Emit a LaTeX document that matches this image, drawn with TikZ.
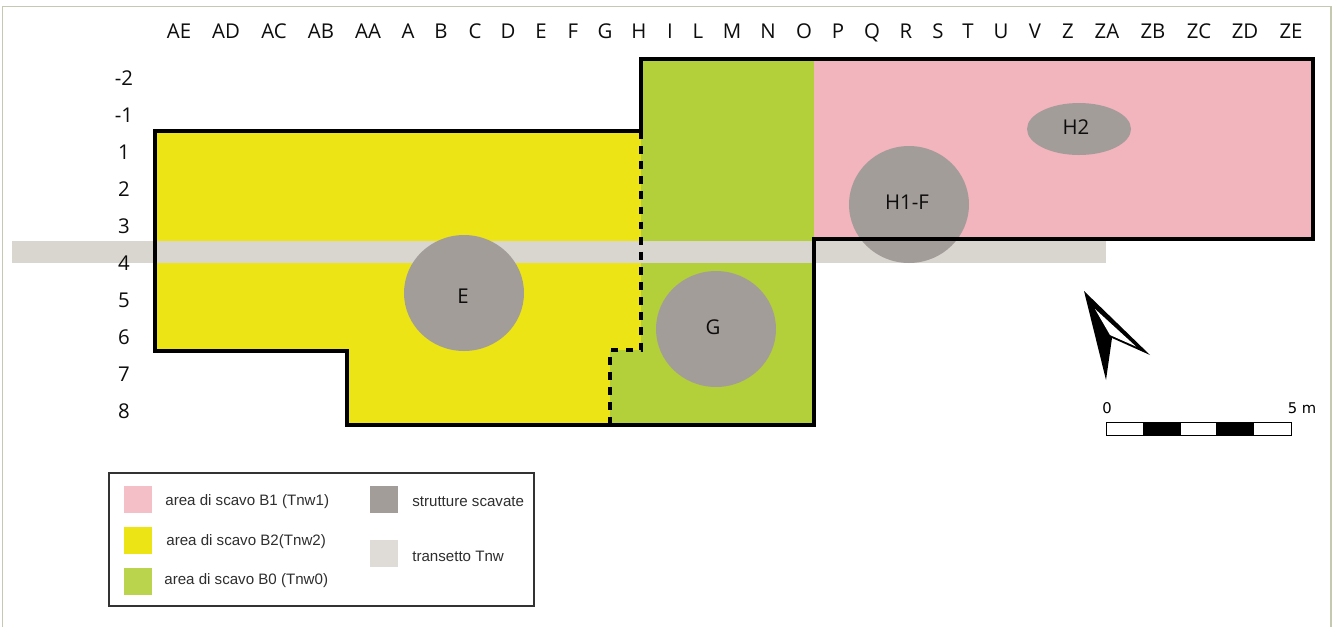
\documentclass[tikz,border=0pt]{standalone}
\usepackage{fontspec}
\setmainfont{Open Sans}
\newfontfamily\legendfont{Liberation Sans}
\newfontfamily\scalefont{DejaVu Sans}
\usepackage{tikz}
\usetikzlibrary{shapes.geometric}
\definecolor{areaone}{HTML}{F2B4BD}
\definecolor{areatwo}{HTML}{ECE415}
\definecolor{areazero}{HTML}{B3CF39}
\definecolor{struct}{HTML}{A39D99}
\definecolor{transect}{HTML}{D9D6D0}
\definecolor{sheet}{HTML}{C4C9B0}
\tikzset{
	grid/.style={inner sep=0, text depth=0pt, font=\fontsize{11.6}{13}\selectfont, text=black!95},
	pit/.style={ellipse, fill=struct, inner sep=0},
	pitlab/.style={inner sep=0, font=\fontsize{11.6}{13}\selectfont, text=black!95},
	edge/.style={line width=2pt, line cap=rect, line join=miter},
	cut/.style={line width=2pt, dash pattern=on 4.4pt off 4.2pt},
	key/.style={anchor=west, inner sep=0, text=black!82, font=\legendfont\fontsize{8.6}{10}\selectfont},
	swatch/.style={inner sep=0, minimum width=0.56cm, minimum height=0.54cm},
	scalelab/.style={inner sep=0, font=\scalefont\fontsize{8.4}{10}\selectfont}
}
\begin{document}
\begin{tikzpicture}[x=0.02cm,y=-0.02cm]
	\useasboundingbox (0,0) rectangle (1335,627);
	\fill[white] (0,0) rectangle (1335,627);
	\draw[sheet,line width=0.8pt] (2.5,627) -- (2.5,6.5) -- (1331,6.5) -- (1331,627);

	\fill[areatwo] (155,131) -- (641,131) -- (641,350) -- (610,350) -- (610,425) -- (347,425) -- (347,351) -- (155,351) -- cycle;
	\fill[areazero] (641,59) -- (814,59) -- (814,425) -- (610,425) -- (610,350) -- (641,350) -- cycle;
	\fill[areaone] (814,59) rectangle (1313,239);
	\fill[transect] (12,241) rectangle (1106,263);

	\node[pit,minimum width=2.4cm,minimum height=2.32cm] (E) at (464,293) {};
	\node[pit,minimum width=2.4cm,minimum height=2.32cm] (G) at (716,329) {};
	\node[pit,minimum width=2.4cm,minimum height=2.34cm] (H1F) at (909,204.5) {};
	\node[pit,minimum width=2.08cm,minimum height=1.04cm] (H2) at (1079,129) {};

	\draw[edge] (155,351) -- (155,131) -- (641,131) -- (641,59) -- (1313,59) -- (1313,239) -- (814,239) -- (814,425) -- (347,425) -- (347,351) -- cycle;
	\draw[cut] (641,131) -- (641,350) -- (610,350) -- (610,425);

	\node[pitlab] (Elab) at (463,296) {E};
	\node[pitlab] (Glab) at (713,327) {G};
	\node[pitlab] (H1Flab) at (907,202) {H1-F};
	\node[pitlab] (H2lab) at (1076,127) {H2};

	\node[grid] (colAE) at (179,31) {AE};
	\node[grid] (colAD) at (226,31) {AD};
	\node[grid] (colAC) at (274,31) {AC};
	\node[grid] (colAB) at (321,31) {AB};
	\node[grid] (colAA) at (368,31) {AA};
	\node[grid] (colA) at (408,31) {A};
	\node[grid] (colB) at (441,31) {B};
	\node[grid] (colC) at (475,31) {C};
	\node[grid] (colD) at (508,31) {D};
	\node[grid] (colE) at (541,31) {E};
	\node[grid] (colF) at (573,31) {F};
	\node[grid] (colG) at (605,31) {G};
	\node[grid] (colH) at (639,31) {H};
	\node[grid] (colI) at (670,31) {I};
	\node[grid] (colL) at (698,31) {L};
	\node[grid] (colM) at (732,31) {M};
	\node[grid] (colN) at (768,31) {N};
	\node[grid] (colO) at (804,31) {O};
	\node[grid] (colP) at (838,31) {P};
	\node[grid] (colQ) at (872,31) {Q};
	\node[grid] (colR) at (906,31) {R};
	\node[grid] (colS) at (938,31) {S};
	\node[grid] (colT) at (968,31) {T};
	\node[grid] (colU) at (1001,31) {U};
	\node[grid] (colV) at (1035,31) {V};
	\node[grid] (colZ) at (1068,31) {Z};
	\node[grid] (colZA) at (1107,31) {ZA};
	\node[grid] (colZB) at (1153,31) {ZB};
	\node[grid] (colZC) at (1199,31) {ZC};
	\node[grid] (colZD) at (1245,31) {ZD};
	\node[grid] (colZE) at (1291,31) {ZE};

	\node[grid] (rowa) at (124,78) {-2};
	\node[grid] (rowb) at (124,115) {-1};
	\node[grid] (rowc) at (124,152) {1};
	\node[grid] (rowd) at (124,189) {2};
	\node[grid] (rowe) at (124,226) {3};
	\node[grid] (rowf) at (124,263) {4};
	\node[grid] (rowg) at (124,300) {5};
	\node[grid] (rowh) at (124,337) {6};
	\node[grid] (rowi) at (124,374) {7};
	\node[grid] (rowj) at (124,411) {8};

	\fill[black] (1084,291) -- (1106,380) -- (1112,338) -- (1150,355) -- cycle;
	\fill[white] (1095,309) -- (1110,335) -- (1136,346.5) -- cycle;

	\node[scalelab] (zero) at (1107,408.5) {0};
	\node[scalelab] (five) at (1302,408.5) {5 m};
	\draw[black,line width=0.5pt] (1106,422) rectangle (1291,435);
	\fill[black] (1143,422) rectangle (1181,435);
	\fill[black] (1216,422) rectangle (1254,435);

	\draw[black!80,line width=1.1pt] (109,473) rectangle (534,606);
	\node[swatch,fill=areaone!85!white] (keyone) at (138,499) {};
	\node[swatch,fill=areatwo] (keytwo) at (138,540) {};
	\node[swatch,fill=areazero!90!white] (keyzero) at (138,581) {};
	\node[swatch,fill=struct] (keystruct) at (384,499.5) {};
	\node[swatch,fill=transect!85!white] (keytrans) at (384,553.5) {};
	\node[key] (txtone) at (165,502) {area di scavo B1 (Tnw1)};
	\node[key] (txttwo) at (166,542) {area di scavo B2(Tnw2)};
	\node[key] (txtzero) at (164,581) {area di scavo B0 (Tnw0)};
	\node[key] (txtstruct) at (412,502) {strutture scavate};
	\node[key] (txttrans) at (412,556) {transetto Tnw};
\end{tikzpicture}
\end{document}
